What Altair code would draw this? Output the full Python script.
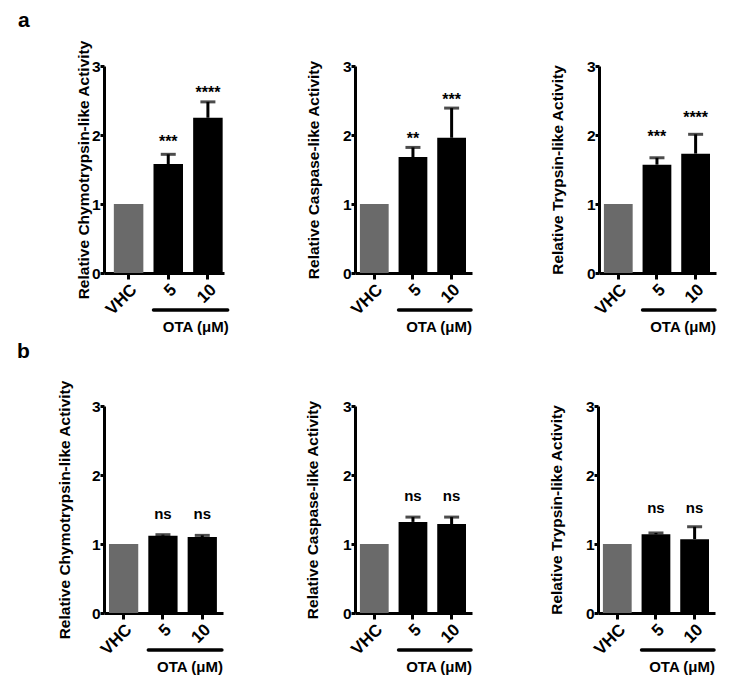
import altair as alt
import pandas as pd

categories = ["VHC", "5", "10"]
groups = ["vhc", "ota", "ota"]

title_chymo = "Relative Chymotrypsin-like Activity"
title_casp = "Relative Caspase-like Activity"
title_tryp = "Relative Trypsin-like Activity"

# row a
a_chymo_mean = [1.0, 1.58, 2.25]
a_chymo_err = [0.0, 0.14, 0.23]
a_chymo_sig = ["", "***", "****"]
a_chymo_sig_y = [None, 1.96, 2.66]

a_casp_mean = [1.0, 1.68, 1.96]
a_casp_err = [0.0, 0.14, 0.43]
a_casp_sig = ["", "**", "***"]
a_casp_sig_y = [None, 2.00, 2.57]

a_tryp_mean = [1.0, 1.57, 1.73]
a_tryp_err = [0.0, 0.10, 0.28]
a_tryp_sig = ["", "***", "****"]
a_tryp_sig_y = [None, 2.03, 2.31]

# row b
b_chymo_mean = [1.0, 1.12, 1.10]
b_chymo_err = [0.0, 0.015, 0.025]
b_chymo_sig = ["", "ns", "ns"]
b_chymo_sig_y = [None, 1.44, 1.44]

b_casp_mean = [1.0, 1.32, 1.29]
b_casp_err = [0.0, 0.07, 0.10]
b_casp_sig = ["", "ns", "ns"]
b_casp_sig_y = [None, 1.69, 1.69]

b_tryp_mean = [1.0, 1.14, 1.07]
b_tryp_err = [0.0, 0.02, 0.18]
b_tryp_sig = ["", "ns", "ns"]
b_tryp_sig_y = [None, 1.52, 1.52]

y_ticks = [0, 1, 2, 3]
x_group_label = "OTA (μM)"

FONT = "Liberation Sans"
H = 207


def panel(title, means, errs, sigs, sig_y, width, align, title_x, letter=None, letter_x=0, letter_y=0):
    df = pd.DataFrame({
        "cat": categories,
        "grp": groups,
        "mean": means,
        "top": [m + e for m, e in zip(means, errs)],
        "err": errs,
        "sig": sigs,
        "sig_y": sig_y,
    })
    err_df = df[df["err"] > 0]
    sig_df = df[df["sig"] != ""]
    xscale = alt.Scale(domain=categories, paddingInner=0.256, paddingOuter=0.141, align=align)
    xaxis = alt.Axis(title=None, labelAngle=-45, labelFont=FONT, labelFontSize=17,
                     labelFontWeight="bold", labelColor="black", domainColor="black",
                     domainWidth=3, tickColor="black", tickWidth=3, tickSize=6,
                     labelPadding=2)
    yscale = alt.Scale(domain=[0, 3], nice=False, zero=True)
    yaxis = alt.Axis(title=title, values=y_ticks, format="d", labelFont=FONT,
                     labelFontSize=15.5, labelFontWeight="bold", labelColor="black",
                     domainColor="black", domainWidth=3, tickColor="black", tickWidth=3,
                     tickSize=4, labelPadding=0, grid=False,
                     titleFont=FONT, titleFontSize=15.5, titleFontWeight="bold",
                     titleColor="black", titleAngle=270, titleX=title_x, titleY=H / 2,
                     titleAlign="center", titleBaseline="alphabetic")

    def X(**kw):
        return alt.X("cat:N", scale=xscale, axis=xaxis, sort=categories, **kw)

    def Y(field):
        return alt.Y(field, scale=yscale, axis=yaxis)

    bars = alt.Chart(df).mark_bar().encode(
        x=X(),
        y=Y("mean:Q"),
        color=alt.Color("grp:N", scale=alt.Scale(domain=["vhc", "ota"], range=["#6a6a6a", "#000000"]), legend=None),
    )
    stems = alt.Chart(err_df).mark_rule(color="black", strokeWidth=3).encode(
        x=X(), y=Y("mean:Q"), y2="top:Q"
    )
    caps = alt.Chart(err_df).mark_tick(color="black", orient="horizontal", size=15, thickness=3).encode(
        x=X(), y=Y("top:Q")
    )
    star = sigs[1].startswith("*")
    sig = alt.Chart(sig_df).mark_text(font=FONT, fontSize=16 if star else 15, fontWeight="bold",
                                      color="black", baseline="alphabetic",
                                      dy=9 if star else 5).encode(
        x=X(), y=Y("sig_y:Q"), text="sig:N"
    )
    line_df = pd.DataFrame({"cat": ["5"], "cat_end": ["10"]})
    line = alt.Chart(line_df).mark_rule(color="black", strokeWidth=3.5, strokeCap="round", x2Offset=5).encode(
        x=X(bandPosition=0), x2=alt.X2("cat_end:N", bandPosition=1), y=alt.value(H + 37)
    )
    lab_df = pd.DataFrame({"cat": ["10"], "t": [x_group_label]})
    lab = alt.Chart(lab_df).mark_text(font=FONT, fontSize=15, fontWeight="bold", color="black",
                                      align="right", baseline="middle", dx=6).encode(
        x=X(bandPosition=1), y=alt.value(H + 54), text="t:N"
    )
    layers = [bars, stems, caps, sig, line, lab]
    if letter:
        let_df = pd.DataFrame({"t": [letter]})
        layers.append(
            alt.Chart(let_df).mark_text(font=FONT, fontSize=21, fontWeight="bold", color="black",
                                        align="left", baseline="alphabetic").encode(
                x=alt.value(letter_x), y=alt.value(letter_y), text="t:N")
        )
    return alt.layer(*layers).properties(width=width, height=H)


row_a = alt.hconcat(
    panel(title_chymo, a_chymo_mean, a_chymo_err, a_chymo_sig, a_chymo_sig_y, 120, 0.88, -16, "a", -86, -39),
    alt.hconcat(
        panel(title_casp, a_casp_mean, a_casp_err, a_casp_sig, a_casp_sig_y, 117, 0.45, -37),
        panel(title_tryp, a_tryp_mean, a_tryp_err, a_tryp_sig, a_tryp_sig_y, 117, 0.45, -37),
        spacing=76,
    ),
    spacing=75,
)
row_b = alt.hconcat(
    panel(title_chymo, b_chymo_mean, b_chymo_err, b_chymo_sig, b_chymo_sig_y, 119, 0.45, -35, "b", -87, -48),
    alt.hconcat(
        panel(title_casp, b_casp_mean, b_casp_err, b_casp_sig, b_casp_sig_y, 117, 0.45, -38),
        panel(title_tryp, b_tryp_mean, b_tryp_err, b_tryp_sig, b_tryp_sig_y, 117, 0.45, -37),
        spacing=75,
    ),
    spacing=80,
)

chart = alt.vconcat(row_a, row_b, spacing=6).properties(
    padding={"left": 9, "top": 2, "right": 5, "bottom": 5},
    background="white",
).configure_view(stroke=None)

chart.save("out.html", embed_options={"renderer": "svg", "actions": False})
